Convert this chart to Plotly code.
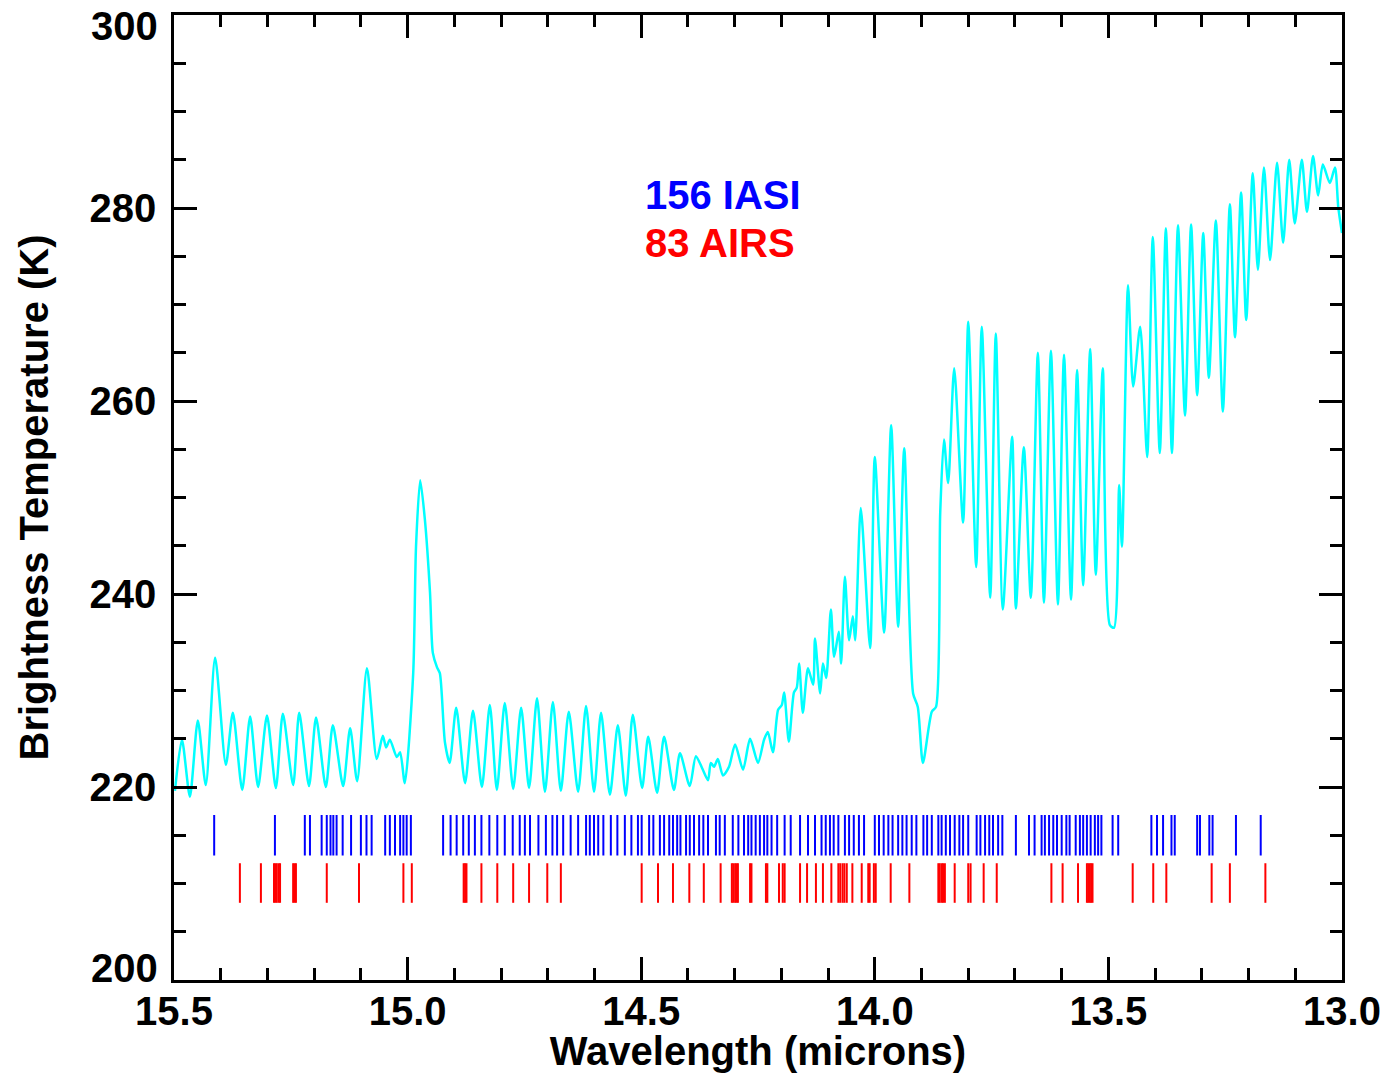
import plotly.graph_objects as go

# ---- Spectrum (wavelength in microns, brightness temperature in K) ----
wavelength = [
    15.498, 15.483, 15.466, 15.449, 15.432, 15.412, 15.389, 15.374, 15.354, 15.337,
    15.320, 15.301, 15.282, 15.267, 15.245, 15.232, 15.211, 15.196, 15.175, 15.160,
    15.138, 15.123, 15.108, 15.087, 15.066, 15.053, 15.046, 15.038, 15.023, 15.016,
    15.006, 14.988, 14.982, 14.973, 14.963, 14.952, 14.946, 14.937, 14.931, 14.920,
    14.910, 14.896, 14.877, 14.860, 14.841, 14.824, 14.809, 14.792, 14.774, 14.757,
    14.740, 14.723, 14.706, 14.689, 14.672, 14.655, 14.635, 14.618, 14.601, 14.586,
    14.567, 14.550, 14.533, 14.518, 14.498, 14.485, 14.466, 14.451, 14.430, 14.417,
    14.396, 14.383, 14.370, 14.357, 14.351, 14.344, 14.336, 14.325, 14.312, 14.299,
    14.282, 14.267, 14.250, 14.237, 14.229, 14.218, 14.207, 14.199, 14.194, 14.184,
    14.173, 14.167, 14.162, 14.154, 14.143, 14.132, 14.128, 14.117, 14.111, 14.104,
    14.094, 14.087, 14.077, 14.072, 14.064, 14.055, 14.047, 14.042, 14.030, 14.010,
    14.000, 13.980, 13.965, 13.950, 13.937, 13.918, 13.908, 13.897, 13.878, 13.869,
    13.860, 13.852, 13.843, 13.830, 13.811, 13.800, 13.783, 13.771, 13.753, 13.741,
    13.726, 13.706, 13.698, 13.681, 13.666, 13.651, 13.638, 13.623, 13.608, 13.595,
    13.580, 13.567, 13.554, 13.539, 13.527, 13.512, 13.497, 13.488, 13.477, 13.471,
    13.458, 13.447, 13.432, 13.417, 13.405, 13.390, 13.377, 13.364, 13.351, 13.336,
    13.323, 13.310, 13.297, 13.285, 13.270, 13.255, 13.240, 13.229, 13.216, 13.205,
    13.191, 13.180, 13.167, 13.154, 13.139, 13.126, 13.113, 13.101, 13.086, 13.075,
    13.062, 13.051, 13.041, 13.026, 13.015, 13.008, 13.000,
]
brightness_temp = [
    219.6, 224.9, 219.0, 226.9, 220.2, 233.4, 222.3, 227.7, 219.7, 227.3,
    220.0, 227.4, 219.9, 227.6, 220.2, 227.7, 220.1, 227.2, 220.0, 226.4,
    220.1, 226.1, 220.6, 232.3, 222.9, 225.3, 224.1, 224.9, 223.1, 223.6,
    220.4, 231.8, 244.9, 251.8, 247.7, 240.1, 233.9, 232.4, 231.8, 224.6,
    222.5, 228.2, 220.4, 227.9, 220.0, 228.5, 219.7, 228.7, 219.8, 228.2,
    219.9, 229.2, 219.5, 228.8, 219.6, 227.8, 219.5, 228.4, 219.5, 227.7,
    219.2, 226.4, 219.1, 227.5, 219.9, 225.2, 219.4, 225.2, 219.7, 223.5,
    220.1, 223.2, 222.0, 220.7, 222.5, 222.1, 222.9, 221.2, 222.1, 224.4,
    221.8, 225.0, 222.5, 224.9, 225.7, 223.6, 228.0, 228.5, 229.8, 224.7,
    229.8, 230.3, 232.8, 227.7, 232.3, 230.6, 235.4, 229.7, 232.8, 231.3,
    238.4, 233.5, 236.1, 232.8, 241.8, 235.2, 237.7, 235.2, 248.9, 234.4,
    254.2, 236.0, 257.5, 236.6, 255.1, 229.7, 228.3, 222.5, 227.8, 228.3,
    248.4, 256.0, 251.5, 263.4, 247.4, 268.2, 242.8, 267.7, 239.6, 267.0,
    238.4, 256.3, 238.5, 255.2, 239.6, 265.0, 239.1, 265.2, 238.9, 264.8,
    239.4, 263.2, 240.9, 265.4, 242.0, 263.4, 236.8, 236.5, 251.3, 244.9,
    272.0, 261.5, 267.7, 254.2, 277.0, 254.6, 277.9, 254.6, 278.2, 258.5,
    278.3, 260.6, 277.4, 262.4, 278.7, 258.9, 280.4, 266.6, 281.6, 268.4,
    283.6, 273.6, 284.2, 274.6, 284.7, 276.4, 285.0, 278.4, 285.0, 279.6,
    285.4, 281.3, 284.5, 282.6, 284.2, 280.1, 277.4,
]

# ---- Selected channels (wavelength, microns) ----
iasi_channels = [
    15.414, 15.284, 15.220, 15.209, 15.184, 15.173, 15.165, 15.159, 15.152, 15.139,
    15.121, 15.100, 15.088, 15.077, 15.048, 15.038, 15.027, 15.016, 15.009, 15.002,
    14.993, 14.924, 14.908, 14.895, 14.881, 14.869, 14.856, 14.842, 14.825, 14.808,
    14.792, 14.775, 14.760, 14.749, 14.738, 14.720, 14.704, 14.690, 14.680, 14.667,
    14.651, 14.635, 14.618, 14.610, 14.601, 14.592, 14.581, 14.565, 14.551, 14.535,
    14.521, 14.507, 14.499, 14.483, 14.474, 14.460, 14.451, 14.440, 14.432, 14.423,
    14.416, 14.404, 14.396, 14.387, 14.376, 14.367, 14.357, 14.340, 14.332, 14.321,
    14.304, 14.292, 14.280, 14.271, 14.264, 14.255, 14.246, 14.237, 14.230, 14.221,
    14.209, 14.193, 14.180, 14.160, 14.143, 14.128, 14.114, 14.105, 14.096, 14.088,
    14.078, 14.064, 14.055, 14.045, 14.034, 14.023, 14.000, 13.991, 13.981, 13.971,
    13.962, 13.950, 13.941, 13.932, 13.921, 13.911, 13.896, 13.888, 13.878, 13.864,
    13.857, 13.848, 13.839, 13.829, 13.819, 13.811, 13.800, 13.782, 13.774, 13.764,
    13.755, 13.747, 13.736, 13.727, 13.698, 13.670, 13.658, 13.643, 13.636, 13.627,
    13.618, 13.610, 13.600, 13.590, 13.583, 13.570, 13.561, 13.554, 13.546, 13.538,
    13.529, 13.522, 13.515, 13.491, 13.479, 13.408, 13.396, 13.383, 13.365, 13.358,
    13.310, 13.304, 13.284, 13.277, 13.227, 13.174,
]
airs_channels = [
    15.359, 15.314, 15.286, 15.283, 15.280, 15.276, 15.273, 15.245, 15.242, 15.239,
    15.173, 15.104, 15.009, 14.991, 14.880, 14.877, 14.874, 14.842, 14.808, 14.774,
    14.740, 14.701, 14.672, 14.499, 14.464, 14.432, 14.397, 14.366, 14.330, 14.306,
    14.303, 14.299, 14.296, 14.293, 14.267, 14.264, 14.233, 14.230, 14.205, 14.197,
    14.193, 14.160, 14.145, 14.126, 14.111, 14.093, 14.078, 14.074, 14.069, 14.065,
    14.060, 14.048, 14.028, 14.014, 14.011, 14.002, 13.998, 13.966, 13.926, 13.864,
    13.861, 13.857, 13.854, 13.850, 13.829, 13.800, 13.795, 13.767, 13.739, 13.622,
    13.598, 13.565, 13.546, 13.543, 13.540, 13.537, 13.534, 13.448, 13.404, 13.376,
    13.279, 13.240, 13.164,
]

x_ticks = [15.5, 15.0, 14.5, 14.0, 13.5, 13.0]
x_ticklabels = ["15.5", "15.0", "14.5", "14.0", "13.5", "13.0"]
y_ticks = [200, 220, 240, 260, 280, 300]
y_ticklabels = ["200", "220", "240", "260", "280", "300"]

FONT = "Liberation Sans, Arial, Helvetica, sans-serif"
FS = 40


def tick_segments(vals, lo, hi):
    xs, ys = [], []
    for v in vals:
        xs += [v, v, None]
        ys += [lo, hi, None]
    return xs, ys


fig = go.Figure()

fig.add_trace(go.Scatter(
    x=wavelength, y=brightness_temp, mode="lines",
    line=dict(color="#00FFFF", width=2.5, shape="spline", smoothing=0.7),
    hoverinfo="skip", showlegend=False,
))

bx, by = tick_segments(iasi_channels, 212.9, 217.1)
fig.add_trace(go.Scatter(x=bx, y=by, mode="lines",
                         line=dict(color="#0000FF", width=2),
                         hoverinfo="skip", showlegend=False))

rx, ry = tick_segments(airs_channels, 208.0, 212.1)
fig.add_trace(go.Scatter(x=rx, y=ry, mode="lines",
                         line=dict(color="#FF0000", width=2),
                         hoverinfo="skip", showlegend=False))

fig.add_annotation(x=14.497, y=281.3, xref="x", yref="y", text="156 IASI",
                   showarrow=False, xanchor="left", yanchor="middle",
                   font=dict(family=FONT, size=FS, color="#0000FF", weight="bold"))
fig.add_annotation(x=14.497, y=276.4, xref="x", yref="y", text="83 AIRS",
                   showarrow=False, xanchor="left", yanchor="middle",
                   font=dict(family=FONT, size=FS, color="#FF0000", weight="bold"))

# Edge y labels (drawn nudged inward like the original)
fig.add_annotation(x=0, xref="paper", y=y_ticks[-1], yref="y", text=y_ticklabels[-1],
                   showarrow=False, xanchor="right", yanchor="middle",
                   xshift=-14, yshift=-11,
                   font=dict(family=FONT, size=FS, color="black", weight="bold"))
fig.add_annotation(x=0, xref="paper", y=y_ticks[0], yref="y", text=y_ticklabels[0],
                   showarrow=False, xanchor="right", yanchor="middle",
                   xshift=-14, yshift=12,
                   font=dict(family=FONT, size=FS, color="black", weight="bold"))

axis_common = dict(
    showgrid=False, zeroline=False, automargin=False,
    showline=True, linecolor="black", linewidth=2.5, mirror="allticks",
    ticks="inside", ticklen=23, tickwidth=2.5, tickcolor="black",
    tickfont=dict(family=FONT, size=FS, color="black", weight="bold"),
    ticklabeloverflow="allow",
)

fig.update_xaxes(
    range=[15.5, 13.0], tickvals=x_ticks, ticktext=x_ticklabels,
    minor=dict(dtick=0.1, tick0=13.0, ticks="inside", ticklen=12,
               tickwidth=2.5, tickcolor="black"),
    title=dict(text="Wavelength (microns)", standoff=1,
               font=dict(family=FONT, size=FS, color="black", weight="bold")),
    ticklabelstandoff=-6,
    **axis_common,
)
fig.update_yaxes(
    range=[200, 300], tickvals=y_ticks,
    ticktext=[""] + y_ticklabels[1:-1] + [""],
    minor=dict(dtick=5, tick0=200, ticks="inside", ticklen=12,
               tickwidth=2.5, tickcolor="black"),
    title=dict(text="Brightness Temperature (K)", standoff=29,
               font=dict(family=FONT, size=FS, color="black", weight="bold")),
    ticklabelstandoff=7,
    **axis_common,
)

# Page body adds an 8 px offset; margins compensate so the plot area sits
# at the same place as in the original picture.
fig.update_layout(
    width=1380, height=1065,
    margin=dict(l=166, r=46, t=7, b=93),
    paper_bgcolor="white", plot_bgcolor="white",
    showlegend=False,
)

fig.write_html("out.html")
